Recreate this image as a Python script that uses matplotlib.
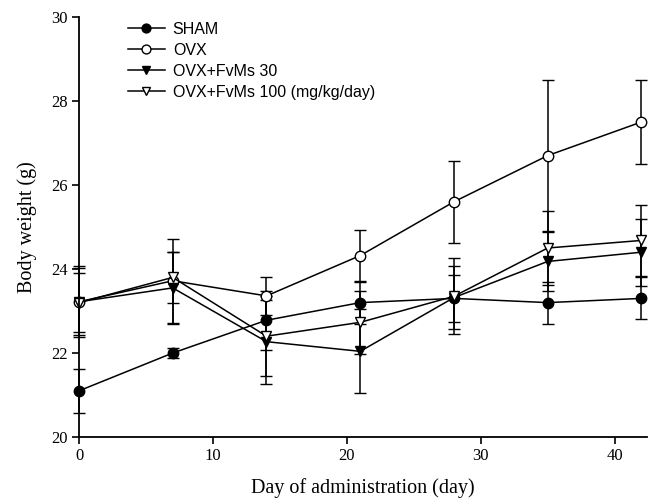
import numpy as np
import matplotlib.pyplot as plt

days = [0, 7, 14, 21, 28, 35, 42]

sham = [21.1, 22.0, 22.78, 23.2, 23.3, 23.2, 23.3]
sham_err = [0.52, 0.13, 0.7, 0.5, 0.55, 0.5, 0.5]

ovx = [23.22, 23.72, 23.36, 24.32, 25.6, 26.7, 27.5]
ovx_err = [0.85, 1.0, 0.45, 0.6, 0.98, 1.8, 1.0]

fvms30 = [23.22, 23.55, 22.27, 22.04, 23.32, 24.18, 24.4]
fvms30_err = [0.8, 0.85, 1.0, 1.0, 0.75, 0.7, 0.8]

fvms100 = [23.2, 23.8, 22.4, 22.73, 23.35, 24.5, 24.68]
fvms100_err = [0.7, 0.6, 0.95, 0.75, 0.9, 0.88, 0.85]

labels = ['SHAM', 'OVX', 'OVX+FvMs 30', 'OVX+FvMs 100 (mg/kg/day)']

serif = ['Liberation Serif', 'DejaVu Serif']
sans = ['Liberation Sans', 'DejaVu Sans']

fig = plt.figure(figsize=(6.6, 4.99), dpi=100)
ax = fig.add_axes([0.1197, 0.1242, 0.8603, 0.8418])

series = [
    (sham, sham_err, 'o', 'black'),
    (ovx, ovx_err, 'o', 'white'),
    (fvms30, fvms30_err, 'v', 'black'),
    (fvms100, fvms100_err, 'v', 'white'),
]

for (vals, err, mk, fc), lab in zip(series, labels):
    ax.errorbar(days, vals, yerr=err, color='black', lw=1.1, elinewidth=1.1,
                capsize=4, capthick=1.1, marker=mk, markersize=7.5,
                markerfacecolor=fc, markeredgecolor='black', markeredgewidth=1.0,
                label=lab, clip_on=False)

ax.set_xlim(0, 42.4)
ax.set_ylim(20, 30)
ax.set_xticks([0, 10, 20, 30, 40])
ax.set_yticks([20, 22, 24, 26, 28, 30])
ax.spines['top'].set_visible(False)
ax.spines['right'].set_visible(False)
for s in ['left', 'bottom']:
    ax.spines[s].set_linewidth(1.3)
ax.tick_params(direction='out', length=5, width=1.2, labelsize=12, pad=3)
for t in ax.get_xticklabels() + ax.get_yticklabels():
    t.set_family(serif)

ax.set_xlabel('Day of administration (day)', family=serif, fontsize=14.5)
ax.set_ylabel('Body weight (g)', family=serif, fontsize=14.5)
ax.xaxis.set_label_coords(0.5, -0.097)
ax.yaxis.set_label_coords(-0.074, 0.5)

handles, labs = ax.get_legend_handles_labels()
handles = [h[0] for h in handles]
leg = ax.legend(handles, labs, loc='upper left', bbox_to_anchor=(0.194, 0.956),
                bbox_transform=fig.transFigure, borderpad=0, borderaxespad=0,
                frameon=False, handlelength=2.3, handletextpad=0.5,
                labelspacing=0.37, markerscale=0.85,
                prop={'family': sans, 'size': 11.5})

fig.savefig('out.png', dpi=100)
